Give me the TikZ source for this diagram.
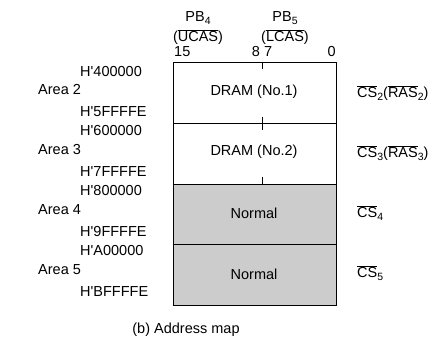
\documentclass[tikz,border=0pt]{standalone}
\usepackage{fontspec}
\setmainfont{Liberation Sans}[Ligatures=TeXOff]
\newcommand\ovl[1]{$\overline{\hbox{#1}}$}
\newcommand\lowsub[1]{\raisebox{-0.45ex}{\fontsize{10.5}{11}\selectfont #1}}
\begin{document}
\begin{tikzpicture}[x=1pt,y=-1pt,
  every node/.style={font=\fontsize{14.5}{16}\selectfont, inner sep=0pt},
  lbl/.style={anchor=west},
  region/.style={draw=black, line width=0.8pt, minimum width=163pt, anchor=north west, outer sep=0pt},
  gray/.style={fill=black!20},
  tick/.style={line width=0.6pt}]
\useasboundingbox (0,0) rectangle (438,352);
% header
\node (pb4) at (198,18) {PB\lowsub{4}};
\node (ucas) at (198,37) {(\ovl{UCAS})};
\node (pb5) at (285,18) {PB\lowsub{5}};
\node (lcas) at (285,37) {(\ovl{LCAS})};
\node[anchor=west] (b15) at (174,52) {15};
\node (b87) at (262,52) {8 7};
\node[anchor=east] (b0) at (336,52) {0};
% regions
\node[region, minimum height=61pt] (r2) at (173,62) {};
\node[region, minimum height=61pt] (r3) at (173,123) {};
\node[region, gray, minimum height=60pt] (r4) at (173,184) {};
\node[region, gray, minimum height=61pt] (r5) at (173,244) {};
\node (t2) at (254,92) {DRAM (No.1)};
\node (t3) at (254,152) {DRAM (No.2)};
\node (t4) at (254,213) {Normal};
\node (t5) at (254,274) {Normal};
% ticks
\coordinate (m0) at (262,62);
\coordinate (m1) at (262,123);
\coordinate (m2) at (262,184);
\draw[tick] (m0) -- ++(0,7);
\draw[tick] (m1) ++(0,-6) -- ++(0,13);
\draw[tick] (m2) -- ++(0,-7);
% left labels
\node[lbl] (h1) at (80,72) {H'400000};
\node[lbl] (h2) at (80,112) {H'5FFFFE};
\node[lbl] (h3) at (80,131) {H'600000};
\node[lbl] (h4) at (80,172) {H'7FFFFE};
\node[lbl] (h5) at (80,191) {H'800000};
\node[lbl] (h6) at (80,232) {H'9FFFFE};
\node[lbl] (h7) at (80,251) {H'A00000};
\node[lbl] (h8) at (80,292) {H'BFFFFE};
\node[lbl] (a2) at (38,90) {Area 2};
\node[lbl] (a3) at (38,150) {Area 3};
\node[lbl] (a4) at (38,210) {Area 4};
\node[lbl] (a5) at (38,270) {Area 5};
% right labels
\node[lbl] (c2) at (357,93) {\ovl{CS}\lowsub{2}(\ovl{RAS}\lowsub{2})};
\node[lbl] (c3) at (357,153) {\ovl{CS}\lowsub{3}(\ovl{RAS}\lowsub{3})};
\node[lbl] (c4) at (357,213) {\ovl{CS}\lowsub{4}};
\node[lbl] (c5) at (357,273) {\ovl{CS}\lowsub{5}};
% caption
\node (cap) at (186,330) {(b) Address map};
\end{tikzpicture}
\end{document}
